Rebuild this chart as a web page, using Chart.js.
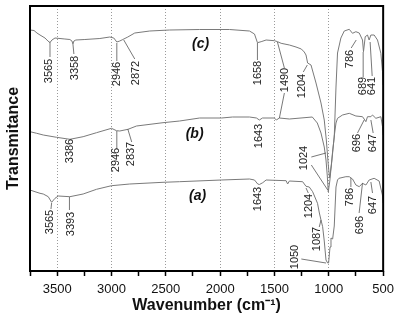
<!DOCTYPE html>
<html>
<head>
<meta charset="utf-8">
<script src="https://cdn.jsdelivr.net/npm/chart.js@4.4.0/dist/chart.umd.min.js"></script>
<style>
  html, body { margin: 0; padding: 0; background: #fff; }
  #wrap { width: 400px; height: 322px; }
</style>
</head>
<body>
<div id="wrap"><canvas id="ftir"></canvas></div>
<script>
// FTIR spectra, wavenumber (cm-1) vs transmittance (a.u., curves offset)
const wnC = [3750,3713,3686,3658,3612,3585,3566,3548,3520,3429,3383,3364,3355,3346,3328,3245,3107,3016,2979,2951,2924,2896,2850,2786,2648,2465,2189,1914,1730,1684,1657,1623,1577,1501,1471,1439,1363,1302,1253,1226,1210,1195,1164,1118,1072,1042,1023,1005,993,977,964,950,934,920,889,858,812,782,751,720,690,681,665,644,629,613,583,552,521,506,500];
const tC  = [241,240.5,238,236,233,230,228.5,231,233,232,231.5,230,227,230,231,231.5,232.5,234,233,229,230,231.5,234,238,240,241,241.5,241.5,240,237,228.3,229.3,231,230.3,229.3,227.7,226,224,222,219,216,208,206,188,168,151,131,106,93,106,121,134,184,218,233,240,241.7,237.7,239.3,238,231,219.3,234.3,236,231,236,236,231,217.7,199.3,186];

const wnB = [3750,3688,3628,3505,3383,3261,3138,3000,2954,2924,2848,2770,2526,2373,2189,1987,1886,1730,1666,1639,1611,1501,1483,1455,1363,1152,1106,1072,1042,1026,1014,1005,991,982,965,950,934,920,874,812,751,690,675,659,644,613,598,567,521,506,500];
const tB  = [139.3,137.7,136,133.7,131.7,134.3,138.3,142.7,140.3,140,141.7,145,148.3,150,153,153,154,154,153,151,153,153,151,153,152,154,148,138,124,111,95,79,90,100,118,135,148,152.7,156,157.7,155,154.3,152,149.3,154.3,154.3,156,152.7,154.3,144.3,136];

const wnA = [3750,3704,3658,3628,3582,3551,3520,3490,3383,3261,3138,3000,2832,2526,2373,1990,1730,1684,1654,1639,1608,1577,1393,1379,1363,1241,1210,1180,1149,1104,1087,1072,1057,1042,1026,1011,1002,989,980,965,950,934,920,907,843,812,782,751,720,690,659,629,583,537,507,500];
const tA  = [81,79.3,77.7,77,74.3,68.7,72.7,75,74.3,77,81.7,85.3,87,88.7,89.3,91,92,91,87,86.5,88.3,91,90.3,87,90,89.3,84.7,84,79.3,67.7,58,51,44.3,30,11,8,8,24,33,32,45,84,91,92.7,94.3,94.3,92,86,84.3,87.7,86,91,92.7,90,76,68];

const seriesNames = ['(a)', '(b)', '(c)'];
const xTickLabels = [3500, 3000, 2500, 2000, 1500, 1000, 500];

// peak labels: text, leader segments [x1,y1,x2,y2] and text centre, in data units
const peakLabels = [
  { t: '3565', seg: [[3566,229,3566,214]], at: [3576,200] },
  { t: '3358', seg: [[3355,227,3346,217]], at: [3337,203] },
  { t: '2946', seg: [[2951,228,2951,210]], at: [2951,197] },
  { t: '2872', seg: [[2887,231,2786,212]], at: [2777,198] },
  { t: '1658', seg: [[1657,228,1657,211]], at: [1648,198] },
  { t: '1490', seg: [[1473,229,1409,203],[1409,178,1455,153]], at: [1400,191] },
  { t: '1204', seg: [[1198,206,1235,199]], at: [1244,185] },
  { t: '786',  seg: [[748,231,794,223]], at: [803,212] },
  { t: '689',  seg: [[684,219,684,194]], at: [684,185] },
  { t: '641',  seg: [[620,229,601,195]], at: [601,185] },

  { t: '3386', seg: [], at: [3383,120] },
  { t: '2946', seg: [[2951,140,2951,122]], at: [2960,111] },
  { t: '2837', seg: [[2850,142,2814,129]], at: [2823,117] },
  { t: '1643', seg: [], at: [1639,135] },
  { t: '1024', seg: [[1161,114,1026,118],[1161,106,1010,81]], at: [1226,113] },
  { t: '696',  seg: [[675,151,736,138]], at: [739,128] },
  { t: '647',  seg: [[613,151,592,138]], at: [592,128] },

  { t: '3565', seg: [[3551,68,3557,62]], at: [3566,49] },
  { t: '3393', seg: [[3387,74,3387,61]], at: [3374,47] },
  { t: '1643', seg: [], at: [1648,72] },
  { t: '1204', seg: [[1210,83,1189,78]], at: [1180,65] },
  { t: '1087', seg: [[1072,51,1088,44]], at: [1106,32] },
  { t: '1050', seg: [[1253,12,1026,8]], at: [1308,14] },
  { t: '786',  seg: [[797,93,797,84]], at: [803,74] },
  { t: '696',  seg: [[690,88,721,58]], at: [711,46] },
  { t: '647',  seg: [[613,89,598,78]], at: [592,66] },
];
const namePos = [[2208,75], [2235,137], [2180,227]];

const FONT = '"Liberation Sans", Arial, sans-serif';
Chart.defaults.font.family = FONT;

const toPts = (xs, ys) => xs.map((v, i) => ({ x: v, y: ys[i] }));
const lineSet = (label, xs, ys) => ({
  label,
  data: toPts(xs, ys),
  borderColor: '#7a7a7a',
  borderWidth: 1,
  pointRadius: 0,
  tension: 0,
});

const annotate = {
  id: 'annotate',
  afterDatasetsDraw(chart) {
    const { ctx, chartArea: a, scales: { x, y } } = chart;
    ctx.save();
    ctx.strokeStyle = '#555';
    ctx.lineWidth = 0.8;
    ctx.fillStyle = '#222';
    ctx.font = '11px ' + FONT;
    ctx.textAlign = 'center';
    ctx.textBaseline = 'middle';
    peakLabels.forEach(p => {
      p.seg.forEach(s => {
        ctx.beginPath();
        ctx.moveTo(x.getPixelForValue(s[0]), y.getPixelForValue(s[1]));
        ctx.lineTo(x.getPixelForValue(s[2]), y.getPixelForValue(s[3]));
        ctx.stroke();
      });
      ctx.save();
      ctx.translate(x.getPixelForValue(p.at[0]), y.getPixelForValue(p.at[1]));
      ctx.rotate(-Math.PI / 2);
      ctx.fillText(p.t, 0, 0);
      ctx.restore();
    });

    ctx.font = 'italic bold 14px ' + FONT;
    ctx.fillStyle = '#111';
    seriesNames.forEach((n, i) => {
      ctx.fillText(n, x.getPixelForValue(namePos[i][0]), y.getPixelForValue(namePos[i][1]));
    });

    ctx.strokeStyle = '#000';
    ctx.lineWidth = 2;
    ctx.strokeRect(a.left, a.top, a.right - a.left, a.bottom - a.top);
    ctx.restore();
  }
};

new Chart(document.getElementById('ftir'), {
  type: 'line',
  data: {
    datasets: [
      lineSet(seriesNames[0], wnA, tA),
      lineSet(seriesNames[1], wnB, tB),
      lineSet(seriesNames[2], wnC, tC),
    ],
  },
  options: {
    responsive: true,
    maintainAspectRatio: false,
    animation: false,
    devicePixelRatio: 1,
    layout: { padding: { left: 0, right: 16, top: 6, bottom: 0 } },
    plugins: {
      legend: { display: false },
      tooltip: { enabled: false },
    },
    scales: {
      x: {
        type: 'linear',
        reverse: true,
        min: 500,
        max: 3750,
        afterFit: s => { s.height = 51; },
        ticks: {
          stepSize: 250,
          autoSkip: false,
          maxRotation: 0,
          padding: 6,
          color: '#111',
          font: { size: 13 },
          callback: v => (xTickLabels.includes(v) ? v : ''),
        },
        grid: {
          color: c => (c.tick && c.tick.value % 500 === 0 && c.tick.value !== 500 && c.tick.value !== 3750)
            ? '#9a9a9a' : 'rgba(0,0,0,0)',
          lineWidth: 1,
          tickColor: '#000',
          tickLength: 5,
          tickWidth: 1.5,
          tickBorderDash: [],
        },
        border: { display: false, dash: [1, 2] },
        title: {
          display: true,
          text: 'Wavenumber (cm\u207B\u00B9)',
          color: '#111',
          font: { size: 16, weight: 'bold' },
          padding: { top: 0, bottom: 7 },
        },
      },
      y: {
        min: 0,
        max: 265,
        afterFit: s => { s.width = 30; },
        ticks: { display: false },
        grid: { display: false },
        border: { display: false },
        title: {
          display: true,
          text: 'Transmitance',
          color: '#111',
          font: { size: 16, weight: 'bold' },
          padding: { top: 4, bottom: 0 },
        },
      },
    },
  },
  plugins: [annotate],
});
</script>
</body>
</html>
